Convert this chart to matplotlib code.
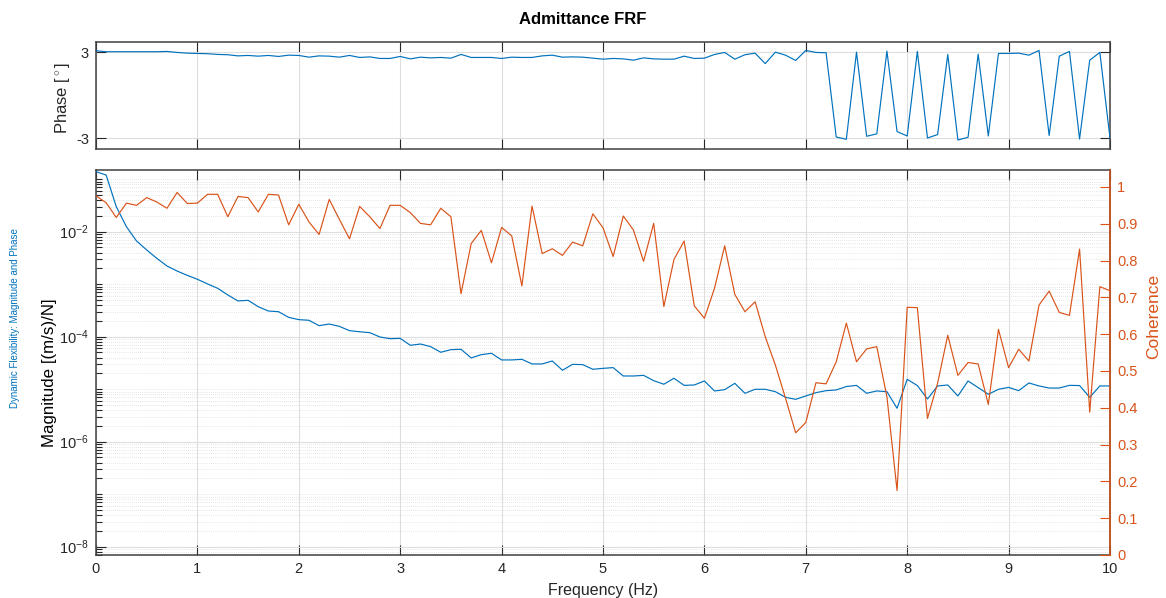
import numpy as np
import matplotlib
matplotlib.use('Agg')
import matplotlib.pyplot as plt
from matplotlib.ticker import FixedLocator, FuncFormatter, NullFormatter

# ---------------- data ----------------
freq = np.linspace(0, 10, 101)

phase = [3.12, 3.05, 3.05, 3.05, 3.05, 3.05, 3.05, 3.07, 3.00, 2.95,
         2.93, 2.91, 2.86, 2.84, 2.76, 2.79, 2.74, 2.79, 2.72, 2.81,
         2.79, 2.67, 2.76, 2.74, 2.67, 2.79, 2.65, 2.69, 2.58, 2.58,
         2.72, 2.55, 2.67, 2.62, 2.65, 2.60, 2.86, 2.65, 2.65, 2.65,
         2.58, 2.67, 2.65, 2.65, 2.76, 2.81, 2.67, 2.69, 2.67, 2.60,
         2.53, 2.58, 2.55, 2.46, 2.62, 2.55, 2.53, 2.53, 2.74, 2.58,
         2.60, 2.86, 3.00, 2.53, 2.84, 2.95, 2.22, 3.02, 2.81, 2.44,
         3.14, 3.00, 2.98, -2.91, -3.07, 3.02, -2.86, -2.69, 3.09, -2.53,
         -2.84, 3.07, -2.98, -2.74, 2.86, -3.12, -2.93, 2.88, -2.84, 2.93,
         2.93, 2.95, 2.81, 3.14, -2.81, 2.74, 3.07, -3.05, 2.46, 3.00,
         -3.00]

magnitude = [1.39e-1, 1.20e-1, 2.99e-2, 1.245e-2, 6.64e-3, 4.48e-3, 3.10e-3, 2.22e-3, 1.78e-3, 1.47e-3,
             1.24e-3, 1.01e-3, 8.34e-4, 6.22e-4, 4.79e-4, 4.92e-4, 3.72e-4, 3.08e-4, 2.99e-4, 2.33e-4,
             2.11e-4, 2.05e-4, 1.62e-4, 1.74e-4, 1.57e-4, 1.30e-4, 1.24e-4, 1.19e-4, 9.86e-5, 9.16e-5,
             9.29e-5, 6.84e-5, 7.24e-5, 6.46e-5, 5.04e-5, 5.65e-5, 5.74e-5, 3.93e-5, 4.54e-5, 4.82e-5,
             3.60e-5, 3.60e-5, 3.70e-5, 3.02e-5, 3.02e-5, 3.44e-5, 2.29e-5, 2.97e-5, 2.93e-5, 2.39e-5,
             2.49e-5, 2.57e-5, 1.78e-5, 1.78e-5, 1.83e-5, 1.45e-5, 1.24e-5, 1.61e-5, 1.18e-5, 1.20e-5,
             1.43e-5, 9.23e-6, 9.77e-6, 1.29e-5, 8.34e-6, 9.93e-6, 9.93e-6, 8.95e-6, 6.98e-6, 6.40e-6,
             7.41e-6, 8.57e-6, 9.35e-6, 9.64e-6, 1.12e-5, 1.18e-5, 8.34e-6, 9.23e-6, 8.95e-6, 4.32e-6,
             1.54e-5, 1.17e-5, 6.50e-6, 1.15e-5, 1.20e-5, 7.41e-6, 1.43e-5, 1.07e-5, 7.98e-6, 9.93e-6,
             1.08e-5, 9.35e-6, 1.31e-5, 1.15e-5, 1.05e-5, 1.05e-5, 1.18e-5, 1.17e-5, 6.98e-6, 1.15e-5,
             1.15e-5]

coherence = [0.976, 0.957, 0.917, 0.956, 0.950, 0.971, 0.959, 0.942, 0.985, 0.955,
             0.956, 0.980, 0.980, 0.919, 0.974, 0.971, 0.932, 0.980, 0.978, 0.897,
             0.953, 0.905, 0.871, 0.966, 0.912, 0.859, 0.947, 0.919, 0.887, 0.950,
             0.950, 0.930, 0.901, 0.897, 0.942, 0.919, 0.710, 0.846, 0.882, 0.794,
             0.890, 0.867, 0.731, 0.948, 0.819, 0.832, 0.814, 0.850, 0.840, 0.927,
             0.889, 0.811, 0.921, 0.883, 0.798, 0.901, 0.675, 0.803, 0.853, 0.677,
             0.643, 0.725, 0.840, 0.708, 0.661, 0.688, 0.593, 0.516, 0.426, 0.332,
             0.360, 0.468, 0.465, 0.525, 0.630, 0.525, 0.560, 0.566, 0.430, 0.175,
             0.673, 0.672, 0.371, 0.467, 0.597, 0.488, 0.523, 0.519, 0.409, 0.613,
             0.509, 0.559, 0.527, 0.679, 0.717, 0.659, 0.651, 0.831, 0.388, 0.729,
             0.718]

x_ticks = list(range(11))
phase_ticks = [-3, 3]
phase_tick_labels = ['-3', '3']
mag_ticks = [1e-8, 1e-6, 1e-4, 1e-2]
coh_ticks = [0, 0.1, 0.2, 0.3, 0.4, 0.5, 0.6, 0.7, 0.8, 0.9, 1.0]

# ---------------- style ----------------
plt.rcParams['font.family'] = ['Liberation Sans', 'DejaVu Sans']
plt.rcParams['mathtext.fontset'] = 'custom'
plt.rcParams['mathtext.rm'] = 'Liberation Sans'
plt.rcParams['mathtext.it'] = 'Liberation Sans:italic'
plt.rcParams['mathtext.bf'] = 'Liberation Sans:bold'

BLUE = '#0072BD'
ORANGE = '#D95319'
DARK = '#262626'
GRID = '#dedede'
MINOR_GRID = '#cfcfcf'
TICK_FS = 10.5
LW = 0.85

fig = plt.figure(figsize=(11.66, 5.98), dpi=100)
L, W = 96 / 1166, 1014 / 1166
axp = fig.add_axes([L, 1 - 149.3 / 598, W, 107.3 / 598])
axm = fig.add_axes([L, 1 - 555 / 598, W, 385 / 598])

# ---------------- phase ----------------
axp.plot(freq, phase, color=BLUE, lw=LW, zorder=3)
axp.set_xlim(0, 10)
axp.set_ylim(-3.77, 3.73)
axp.set_xticks(x_ticks)
axp.set_yticks(phase_ticks)
axp.set_yticklabels(phase_tick_labels)
axp.tick_params(direction='in', top=True, right=True, labelbottom=False,
                length=7, width=0.8, color=DARK, labelcolor=DARK,
                labelsize=TICK_FS, pad=5)
axp.grid(True, color=GRID, lw=0.8, zorder=0)
axp.set_axisbelow(True)
for s in axp.spines.values():
    s.set_color('#404040')
    s.set_linewidth(1.1)
axp.set_ylabel('Phase [$^\\circ$]', fontsize=12, color=DARK)
axp.yaxis.set_label_coords(-0.024, 0.48)

# ---------------- magnitude ----------------
axm.semilogy(freq, magnitude, color=BLUE, lw=LW, zorder=3)
axm.set_xlim(0, 10)
axm.set_ylim(10 ** -8.16, 10 ** -0.825)
axm.set_xticks(x_ticks)
axm.set_xticklabels([str(t) for t in x_ticks])
axm.yaxis.set_major_locator(FixedLocator(mag_ticks))
axm.yaxis.set_major_formatter(FuncFormatter(
    lambda v, p: r'$\mathregular{10^{%d}}$' % int(round(np.log10(v)))))
minor_pos = [m * 10.0 ** e for e in range(-9, 0) for m in range(1, 10)
             if not (m == 1 and e % 2 == 0)]
axm.yaxis.set_minor_locator(FixedLocator(minor_pos))
axm.yaxis.set_minor_formatter(NullFormatter())
axm.grid(True, which='major', color=GRID, lw=0.8)
axm.grid(True, which='minor', axis='y', color=MINOR_GRID, ls=(0, (1, 2)), lw=0.5)
axm.set_axisbelow(True)
axm.tick_params(which='both', direction='in', top=True, right=False,
                color=DARK, labelcolor=DARK, labelsize=TICK_FS, width=0.8, pad=5)
axm.tick_params(which='major', length=7)
axm.tick_params(which='minor', length=4)
for s in axm.spines.values():
    s.set_color('#404040')
    s.set_linewidth(1.1)
axm.set_xlabel('Frequency (Hz)', fontsize=11.5, color=DARK, labelpad=5)
axm.set_ylabel('Magnitude [(m/s)/N]', fontsize=12.2, color='black')
axm.yaxis.set_label_coords(-0.0385, 0.473)

# ---------------- coherence ----------------
ax2 = axm.twinx()
ax2.plot(freq, coherence, color=ORANGE, lw=LW, zorder=3)
ax2.set_ylim(0, 1.046)
ax2.yaxis.set_major_locator(FixedLocator(coh_ticks))
ax2.yaxis.set_major_formatter(FuncFormatter(lambda v, p: f'{v:g}'))
ax2.tick_params(direction='in', length=7, width=0.8, color=ORANGE,
                labelcolor=ORANGE, labelsize=TICK_FS, pad=5)
for k in ('left', 'top', 'bottom'):
    ax2.spines[k].set_visible(False)
ax2.spines['right'].set_color(ORANGE)
ax2.spines['right'].set_linewidth(1.1)
ax2.set_ylabel('Coherence', fontsize=12.5, color=ORANGE)
ax2.yaxis.set_label_coords(1.036, 0.62)

# ---------------- titles ----------------
fig.text(0.5, 1 - 20 / 598, 'Admittance FRF', ha='center', va='center',
         fontsize=12, fontweight='bold', color='black')
fig.text(15 / 1166, 1 - 318 / 598, 'Dynamic Flexibility: Magnitude and Phase',
         rotation=90, ha='center', va='center', fontsize=7, color=BLUE)

fig.savefig('out.png', dpi=100)
